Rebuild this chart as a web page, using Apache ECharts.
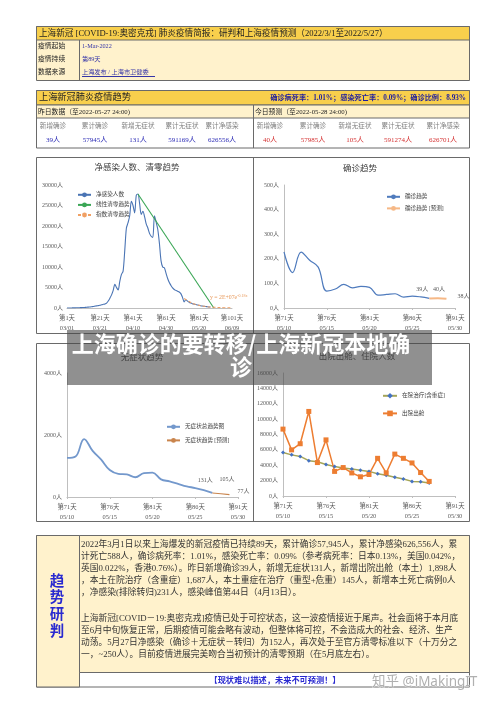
<!DOCTYPE html>
<html><head><meta charset="utf-8">
<script src="https://cdn.jsdelivr.net/npm/echarts@6/dist/echarts.min.js"></script>
<style>html,body{margin:0;padding:0;background:#fff}#c{width:500px;height:707px}</style>
</head><body><div id="c"></div>
<script>
// ---------------- data ----------------
const netInfection = [10,12,15,20,30,40,50,60,80,100,120,150,180,220,260,320,380,450,520,580,
  650,800,900,1000,1200,1700,2400,3200,4300,5800,5000,4400,6500,8200,9000,14000,19500,20800,22500,26000,
  25000,23200,27500,27800,25500,22800,23600,22300,20500,19500,18200,17500,17200,22500,21000,19200,15800,11500,10000,9800,
  8500,7200,6200,5500,4900,4500,4300,4100,3900,3500,2600,1500,2000,1700,1400,1200,1050,950,850,750,
  650,560,480,420,360,310,260,231];
const linearTrendDays = [44, 90];
const linearTrendValues = [27800, 0];
const expTrendDays = [72,74,76,78,80,82,84,86,88,90,92,94,96,98,100];
const expTrendValues = [2300,1800,1350,1000,750,560,420,310,230,170,125,95,70,52,40];
const chart1TickDays = [1,21,41,61,81,101];
const chart1TickDates = ['03/01','03/21','04/10','04/30','05/20','06/09'];
const recentTickDays = [71,76,81,86,91];
const recentTickDates = ['05/10','05/15','05/20','05/25','05/30'];
const recentStartDay = 71;
const confirmedDaily = [228,144,227,194,166,69,77,96,82,88,84,52,55,58,44,48,45,39];
const confirmedForecastDays = [88,89,90];
const confirmedForecast = [39,40,38];
const asymptomaticDaily = [1259,1305,1869,1487,1203,869,746,727,637,770,784,570,503,422,343,290,219,131];
const asymForecastDays = [88,89,90];
const asymForecast = [131,105,77];
const hospitalized = [5650,5350,5150,4600,4450,4100,3850,3650,3500,3350,3200,2900,2700,2450,2200,1900,1850,1687];
const discharged = [8700,6000,6800,11000,4350,7300,3200,3700,3000,2500,2800,4900,3000,5450,4900,4300,3050,1898];

const tableColLabels = ['新增确诊','累计确诊','新增无症状','累计无症状','累计净感染'];
const yesterdayValues = [39,57945,131,591169,626556];
const todayForecastValues = [40,57985,105,591274,626701];

const briefTitle = '上海新冠 [COVID-19:奥密克戎] 肺炎疫情简报：研判和上海疫情预测（2022/3/1至2022/5/27）';
const infoLabels = ['疫情起始','疫情持续','数据来源'];
const infoValues = ['1-Mar-2022','第89天','上海发布 / 上海市卫健委'];
const trendTitle = '上海新冠肺炎疫情趋势';
const rateText = '确诊病死率：1.01%；感染死亡率：0.09%；确诊比例：8.93%';
const yesterdayLabel = '昨日数据（至2022-05-27 24:00)';
const todayLabel = '今日预测（至2022-05-28 24:00)';
const para1 = [
 '2022年3月1日以来上海爆发的新冠疫情已持续89天，累计确诊57,945人，累计净感染626,556人，累',
 '计死亡588人，确诊病死率：1.01%，感染死亡率：0.09%（参考病死率：日本0.13%，美国0.042%，',
 '英国0.022%，香港0.76%）。昨日新增确诊39人，新增无症状131人，新增出院出舱（本土）1,898人',
 '，本土在院治疗（含重症）1,687人，本土重症在治疗（重型+危重）145人，新增本土死亡病例0人',
 '，净感染(排除转归)231人，感染峰值第44日（4月13日）。'
];
const para2 = [
 '上海新冠[COVID－19:奥密克戎]疫情已处于可控状态，这一波疫情接近于尾声。社会面将于本月底',
 '至6月中旬恢复正常，后期疫情可能会略有波动，但整体将可控，不会造成大的社会、经济、生产',
 '动荡。5月27日净感染（确诊＋无症状－转归）为152人，再次处于至官方清零标准以下（十万分之',
 '一，~250人）。目前疫情进展完美吻合当初预计的清零预期（在5月底左右）。'
];
const footerText = '【现状难以描述，未来不可预测！】';
const overlayLines = ['上海确诊的要转移/上海新冠本地确','诊'];
const watermark = '知乎 @iMakingIT';

// ---------------- styling helpers ----------------
const FONT = '"Liberation Serif","Noto Sans CJK SC",serif';
const CJK = '"Noto Sans CJK SC",sans-serif';
const YELLOW = '#f8cf4c', CREAM = '#fff2cc', BORDER = '#6a6a6a';
function T(text, x, y, o) {
  o = o || {};
  return {type:'text', x:x, y:y, z:o.z||10, style:{text:text, fill:o.color||'#222', fontSize:o.size||8,
    fontFamily:o.font||FONT, fontWeight:o.weight||'normal', textAlign:o.align||'left', textVerticalAlign:'middle'}};
}
function R(x,y,w,h,fill,stroke,z){return {type:'rect', z:z||1, shape:{x:x,y:y,width:w,height:h}, style:{fill:fill||'transparent', stroke:stroke||null, lineWidth:1}};}
function L(x1,y1,x2,y2,c,z){return {type:'line', z:z||5, shape:{x1:x1,y1:y1,x2:x2,y2:y2}, style:{stroke:c||BORDER, lineWidth:1}};}

const els = [];
// table 1
els.push(R(36.5,26.5,433,54,CREAM,BORDER));
els.push(R(36.5,26.5,433,13.5,YELLOW,BORDER,2));
els.push(T(briefTitle,39,33.5,{size:8.6,color:'#222'}));
els.push(L(79.5,40,79.5,80.5));
infoLabels.forEach((t,i)=>{
  els.push(T(t,38,46.5+i*13,{size:6.8,color:'#222'}));
  els.push(T(infoValues[i],82,46.5+i*13,{size:6.2,color:'#3535a8'}));
});
els.push(L(82,76.5,155,76.5,'#3535a8'));
// table 2
els.push(R(36.5,90.5,433,57.5,'#fff',BORDER));
els.push(R(36.5,90.5,433,14.5,YELLOW,BORDER,2));
els.push(R(36.5,105,433,13,CREAM,BORDER,2));
els.push(T(trendTitle,39,98,{size:9.2,color:'#222'}));
els.push(T(rateText,466,98,{size:7.2,color:'#1c1ca0',weight:'bold',align:'right'}));
els.push(L(253.5,105,253.5,148));
els.push(T(yesterdayLabel,38,112,{size:6.8}));
els.push(T(todayLabel,255,112,{size:6.8}));
const leftCols = [53,95,138,182,222], rightCols = [270,313,355,398,443];
tableColLabels.forEach((t,i)=>{
  els.push(T(t,leftCols[i],126,{size:6.6,color:'#808080',align:'center'}));
  els.push(T(t,rightCols[i],126,{size:6.6,color:'#808080',align:'center'}));
  els.push(T(yesterdayValues[i]+'人',leftCols[i],140,{size:7,color:'#2b2bb5',align:'center'}));
  els.push(T(todayForecastValues[i]+'人',rightCols[i],140,{size:7,color:'#d43030',align:'center'}));
});
// chart boxes
els.push(R(36.5,157.5,433,176,'transparent',BORDER));
els.push(L(253.5,157.5,253.5,333.5));
els.push(R(36.5,343.5,433,178,'transparent',BORDER));
els.push(L(253.5,343.5,253.5,521.5));
els.push(T('净感染人数、清零趋势',137,168,{size:8.5,color:'#404040',align:'center'}));
els.push(T('确诊趋势',360,169,{size:8.5,color:'#404040',align:'center'}));
els.push(T('无症状趋势',142,358,{size:8.5,color:'#404040',align:'center'}));
els.push(T('出院出舱、住院人数',357,357,{size:8.5,color:'#404040',align:'center'}));
els.push({type:'text', x:210, y:297, z:10, style:{text:'{a|y = 2E+07e}{b|-0.18x}', textVerticalAlign:'middle',
  rich:{a:{fontSize:5.8,fill:'#e89a5c',fontFamily:FONT}, b:{fontSize:4,fill:'#e89a5c',fontFamily:FONT,verticalAlign:'top'}}}});
// bottom box
els.push(R(36.5,535.5,433,151.5,'#fff',BORDER));
els.push(R(36.5,535.5,43,151.5,CREAM,BORDER,2));
els.push(R(79.5,535.5,390,137,CREAM,BORDER,2));
['趋','势','研','判'].forEach((c,i)=>els.push(T(c,57,580+i*16.8,{size:14.5,color:'#2a2ad0',weight:'bold',align:'center',font:CJK})));
para1.forEach((t,i)=>els.push(T(t,81,545+i*12,{size:8.75,color:'#333'})));
para2.forEach((t,i)=>els.push(T(t,81,619+i*11.8,{size:8.75,color:'#333'})));
els.push(T(footerText,275,680.5,{size:8.2,color:'#2a2ad0',weight:'bold',align:'center'}));
els.push({type:'text', x:372, y:682, z:50, style:{text:watermark, fill:'rgba(150,150,150,0.75)', fontSize:13.5,
  fontFamily:'"Noto Sans",' + CJK, textVerticalAlign:'middle', stroke:'rgba(255,255,255,0.6)', lineWidth:1}});
// overlay
els.push({type:'rect', z:100, shape:{x:67,y:330,width:365,height:55}, style:{fill:'rgba(70,70,70,0.6)'}});
overlayLines.forEach((t,i)=>els.push(T(t,241,344+i*23,{size:22,color:'#fff',weight:'bold',align:'center',font:CJK,z:101})));

// ---------------- axes ----------------
const LBL = {fontSize:6, color:'#595959', fontFamily:FONT};
function yAx(gi,max,interval,showLine,margin){
  return {gridIndex:gi, type:'value', min:0, max:max, interval:interval,
    axisLabel:Object.assign({formatter: v => v + '人', margin:margin||4}, LBL),
    axisLine:{show:showLine, lineStyle:{color:'#bfbfbf'}}, axisTick:{show:false}, splitLine:{show:false}};
}
function xAx(gi,max,interval,fmt,ticks){
  return {gridIndex:gi, type:'value', min:0, max:max, interval:interval,
    axisLabel:Object.assign({formatter:fmt, margin:5, lineHeight:10}, LBL, {fontSize:6.4}),
    axisLine:{show:true, lineStyle:{color:'#bfbfbf'}}, axisTick:{show:ticks, length:2, lineStyle:{color:'#bfbfbf'}}, splitLine:{show:false}};
}
const fmt1 = v => '第' + (v+1) + '天\n' + chart1TickDates[chart1TickDays.indexOf(v+1)];
const fmtR = v => '第' + (v+recentStartDay) + '天\n' + recentTickDates[recentTickDays.indexOf(v+recentStartDay)];

const annot = {fontSize:6, color:'#595959', fontFamily:FONT};
const cfLabelCfg = [{position:'top',offset:[-7,-1]},{position:'top',offset:[1,-1]},{position:'right',offset:[6,-2]}];
const afLabelCfg = [{position:'top',offset:[-7,-4]},{position:'top',offset:[6,-6]},{position:'right',offset:[3,-3]}];

const option = {
  animation:false,
  textStyle:{fontFamily:FONT},
  grid:[
    {left:67, top:185, width:165, height:123, outerBoundsMode:'none'},
    {left:284, top:185, width:171, height:123, outerBoundsMode:'none'},
    {left:67, top:373, width:171, height:124, outerBoundsMode:'none'},
    {left:283, top:373, width:172, height:123, outerBoundsMode:'none'}
  ],
  xAxis:[ xAx(0,100,20,fmt1,false), xAx(1,20,5,fmtR,true), xAx(2,20,5,fmtR,true), xAx(3,20,5,fmtR,true) ],
  yAxis:[ yAx(0,30000,5000,false,4), yAx(1,500,100,true,5), yAx(2,4000,2000,true,5), yAx(3,16000,2000,true,5) ],
  legend:[
    {data:['净感染人数','线性清零趋势','指数清零趋势'], orient:'vertical', left:72, top:187, itemWidth:13, itemHeight:6, itemGap:4.5, selectedMode:false, textStyle:{fontSize:5.6,color:'#404040'}},
    {data:['确诊趋势','确诊趋势 [预测]'], orient:'vertical', left:381, top:189, itemWidth:13, itemHeight:6, itemGap:6, selectedMode:false, textStyle:{fontSize:5.6,color:'#404040'}},
    {data:['无症状总趋势图','无症状趋势 [预测]'], orient:'vertical', left:161, top:419, itemWidth:13, itemHeight:6, itemGap:8, selectedMode:false, textStyle:{fontSize:5.6,color:'#404040'}},
    {data:['在院治疗[含重症]','出院出舱'], orient:'vertical', left:377, top:388, itemWidth:14, itemHeight:7, itemGap:12, selectedMode:false, textStyle:{fontSize:5.6,color:'#404040'}}
  ],
  series:[
    {name:'净感染人数', type:'line', xAxisIndex:0, yAxisIndex:0, symbol:'none', smooth:0.3,
     data: netInfection.map((v,i)=>[i,v]), lineStyle:{color:'#4a74b4',width:1.1}, itemStyle:{color:'#4a74b4'}},
    {name:'线性清零趋势', type:'line', xAxisIndex:0, yAxisIndex:0, symbol:'none',
     data: linearTrendDays.map((d,i)=>[d-1, linearTrendValues[i]]), lineStyle:{color:'#3aa655',width:1.1}, itemStyle:{color:'#3aa655'}},
    {name:'指数清零趋势', type:'line', xAxisIndex:0, yAxisIndex:0, symbol:'none', smooth:true,
     data: expTrendDays.map((d,i)=>[d-1, expTrendValues[i]]), lineStyle:{color:'#f0a064',width:1.1,type:[3,2]}, itemStyle:{color:'#f0a064'}},
    {name:'确诊趋势', type:'line', xAxisIndex:1, yAxisIndex:1, symbol:'none', smooth:0.4,
     data: confirmedDaily.map((v,i)=>[i,v]), lineStyle:{color:'#4f7bbd',width:1.2}, itemStyle:{color:'#4f7bbd'}},
    {name:'确诊趋势 [预测]', type:'line', xAxisIndex:1, yAxisIndex:1, symbol:'circle', symbolSize:0.1, smooth:0.4,
     data: confirmedForecastDays.map((d,i)=>({value:[d-recentStartDay, confirmedForecast[i]],
       label:Object.assign({show:true, formatter:confirmedForecast[i]+'人'}, annot, cfLabelCfg[i])})),
     lineStyle:{color:'#f6b886',width:2}, itemStyle:{color:'#f6b886'}},
    {name:'无症状总趋势图', type:'line', xAxisIndex:2, yAxisIndex:2, symbol:'none', smooth:0.4,
     data: asymptomaticDaily.map((v,i)=>[i,v]), lineStyle:{color:'#7398cc',width:1.8}, itemStyle:{color:'#7398cc'}},
    {name:'无症状趋势 [预测]', type:'line', xAxisIndex:2, yAxisIndex:2, symbol:'circle', symbolSize:0.1,
     data: asymForecastDays.map((d,i)=>({value:[d-recentStartDay, asymForecast[i]],
       label:Object.assign({show:true, formatter:asymForecast[i]+'人'}, annot, afLabelCfg[i])})),
     lineStyle:{color:'#c9844c',width:1.1}, itemStyle:{color:'#c9844c'}},
    {name:'在院治疗[含重症]', type:'line', xAxisIndex:3, yAxisIndex:3, symbol:'diamond', symbolSize:4,
     data: hospitalized.map((v,i)=>[i,v]), lineStyle:{color:'#a5a557',width:1.5}, itemStyle:{color:'#4472c4'}},
    {name:'出院出舱', type:'line', xAxisIndex:3, yAxisIndex:3, symbol:'rect', symbolSize:5,
     data: discharged.map((v,i)=>[i,v]), lineStyle:{color:'#ed7d31',width:1.5}, itemStyle:{color:'#ed7d31'}}
  ],
  graphic:{elements:els}
};
const chart = echarts.init(document.getElementById('c'), null, {renderer:'canvas'});
chart.setOption(option);
</script></body></html>
